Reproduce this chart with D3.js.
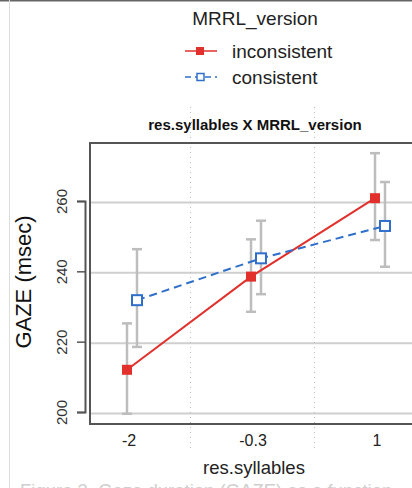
<!DOCTYPE html>
<meta charset="utf-8">
<style>
body { margin: 0; background: #fff; }
svg { display: block; font-family: "Liberation Sans", Arial, sans-serif; }
</style>
<svg width="412" height="488"></svg>
<script src="https://cdn.jsdelivr.net/npm/d3@7"></script>
<script>

var categories = ["-2", "-0.3", "1"];
var versions = ["inconsistent", "consistent"];
var inconsistent = [212, 238.5, 260.8];
var inconsistentLo = [199.5, 228.5, 248.9];
var inconsistentHi = [225.2, 249.1, 273.6];
var consistent = [231.8, 243.7, 252.9];
var consistentLo = [218.5, 233.5, 241.3];
var consistentHi = [246.3, 254.4, 265.4];
var yTicks = [200, 220, 240, 260];

var svg = d3.select("svg");

var x = d3.scalePoint()
    .domain(categories)
    .range([128.5, 376.5]);

var y = d3.scaleLinear()
    .domain([200, 260])
    .range([412, 201]);

var dodge = { inconsistent: -1.5, consistent: 8.5 };
var colors = { inconsistent: "#e2302d", consistent: "#2f6fcb" };

var series = [
  { key: "inconsistent", values: inconsistent, lo: inconsistentLo, hi: inconsistentHi },
  { key: "consistent", values: consistent, lo: consistentLo, hi: consistentHi }
];

// page edges
svg.append("line")
    .attr("x1", 0).attr("x2", 412).attr("y1", 0.5).attr("y2", 0.5)
    .attr("stroke", "#666").attr("stroke-width", 2);
svg.append("line")
    .attr("x1", 9.5).attr("x2", 9.5).attr("y1", 0).attr("y2", 488)
    .attr("stroke", "#ddd").attr("stroke-width", 1);

// legend
svg.append("text")
    .attr("x", 255).attr("y", 25)
    .attr("text-anchor", "middle")
    .attr("font-size", 19)
    .attr("fill", "#222")
    .text("MRRL_version");

var legend = svg.append("g").selectAll("g")
  .data(series)
  .enter().append("g")
    .attr("transform", function(d, i) { return "translate(0," + (51 + i * 26) + ")"; });

legend.append("line")
    .attr("x1", 185).attr("x2", 217)
    .attr("stroke", function(d) { return colors[d.key]; })
    .attr("stroke-width", 1.5)
    .attr("stroke-dasharray", function(d) { return d.key == "consistent" ? "6,4" : null; });

legend.append("rect")
    .attr("x", function(d) { return d.key == "consistent" ? 197 : 196; })
    .attr("y", function(d) { return d.key == "consistent" ? -3.5 : -4; })
    .attr("width", function(d) { return d.key == "consistent" ? 7 : 8; })
    .attr("height", function(d) { return d.key == "consistent" ? 7 : 8; })
    .attr("fill", function(d) { return d.key == "consistent" ? "#fff" : colors[d.key]; })
    .attr("stroke", function(d) { return colors[d.key]; })
    .attr("stroke-width", function(d) { return d.key == "consistent" ? 1.5 : 0; });

legend.append("text")
    .attr("x", 232).attr("y", 6.5)
    .attr("font-size", 19)
    .attr("fill", "#222")
    .text(function(d) { return d.key; });

// title
svg.append("text")
    .attr("x", 255).attr("y", 130)
    .attr("text-anchor", "middle")
    .attr("font-size", 15)
    .attr("font-weight", "bold")
    .attr("fill", "#111")
    .text("res.syllables X MRRL_version");

// grid
svg.append("g").selectAll("line")
  .data(yTicks)
  .enter().append("line")
    .attr("x1", 90).attr("x2", 412)
    .attr("y1", function(d) { return y(d) + 1.5; })
    .attr("y2", function(d) { return y(d) + 1.5; })
    .attr("stroke", "#cfcfcf")
    .attr("stroke-width", 2);

// dotted separators between categories
var seps = [0, 1].map(function(i) { return (x(categories[i]) + x(categories[i + 1])) / 2; });
svg.append("g").selectAll("line")
  .data(seps)
  .enter().append("line")
    .attr("x1", function(d) { return d; }).attr("x2", function(d) { return d; })
    .attr("y1", 107).attr("y2", 449)
    .attr("stroke", "#bbb")
    .attr("stroke-width", 1)
    .attr("stroke-dasharray", "1,4");

// plot box
svg.append("rect")
    .attr("x", 90).attr("y", 143)
    .attr("width", 340).attr("height", 281)
    .attr("fill", "none")
    .attr("stroke", "#555")
    .attr("stroke-width", 2);

// y axis
var yAxis = svg.append("g")
    .attr("transform", "translate(85,0)")
    .call(d3.axisLeft(y).tickValues(yTicks).tickSize(8).tickFormat(d3.format("d")));
yAxis.select(".domain").attr("stroke", "#555").attr("stroke-width", 2);
yAxis.selectAll(".tick line").attr("stroke", "#555").attr("stroke-width", 1.5);
yAxis.selectAll(".tick text")
    .attr("font-size", 15)
    .attr("font-family", "Liberation Sans, Arial, sans-serif")
    .attr("fill", "#333")
    .attr("text-anchor", "middle")
    .attr("x", 0).attr("y", null).attr("dy", null)
    .attr("transform", "translate(-18,0) rotate(-90)");

svg.append("text")
    .attr("transform", "translate(31,282) rotate(-90)")
    .attr("text-anchor", "middle")
    .attr("font-size", 22)
    .attr("fill", "#111")
    .text("GAZE (msec)");

// x axis labels
var xAxis = svg.append("g")
    .attr("transform", "translate(0,424)")
    .call(d3.axisBottom(x).tickSize(0).tickPadding(11));
xAxis.select(".domain").remove();
xAxis.selectAll(".tick text")
    .attr("font-size", 16)
    .attr("font-family", "Liberation Sans, Arial, sans-serif")
    .attr("fill", "#222");

svg.append("text")
    .attr("x", 254).attr("y", 474)
    .attr("text-anchor", "middle")
    .attr("font-size", 18.5)
    .attr("fill", "#222")
    .text("res.syllables");

// error bars
var bars = svg.append("g");
series.forEach(function(s) {
  categories.forEach(function(c, i) {
    var cx = x(c) + dodge[s.key];
    bars.append("line")
        .attr("x1", cx).attr("x2", cx)
        .attr("y1", y(s.lo[i])).attr("y2", y(s.hi[i]))
        .attr("stroke", "#bdbdbd").attr("stroke-width", 2.5);
    [s.lo[i], s.hi[i]].forEach(function(v) {
      bars.append("line")
          .attr("x1", cx - 5).attr("x2", cx + 5)
          .attr("y1", y(v)).attr("y2", y(v))
          .attr("stroke", "#bdbdbd").attr("stroke-width", 2.5);
    });
  });
});

// lines
var line = d3.line()
    .x(function(d) { return d[0]; })
    .y(function(d) { return d[1]; });

series.forEach(function(s) {
  var pts = categories.map(function(c, i) { return [x(c) + dodge[s.key], y(s.values[i])]; });
  svg.append("path")
      .attr("d", line(pts))
      .attr("fill", "none")
      .attr("stroke", colors[s.key])
      .attr("stroke-width", 2)
      .attr("stroke-dasharray", s.key == "consistent" ? "8,5" : null);
});

// points
series.forEach(function(s) {
  svg.append("g").selectAll("rect")
    .data(s.values)
    .enter().append("rect")
      .attr("x", function(d, i) { return x(categories[i]) + dodge[s.key] - 5; })
      .attr("y", function(d) { return y(d) - 5; })
      .attr("width", 10).attr("height", 10)
      .attr("fill", s.key == "consistent" ? "#fff" : colors[s.key])
      .attr("stroke", s.key == "consistent" ? colors[s.key] : "none")
      .attr("stroke-width", 2);
});

// caption (cut off at the bottom of the frame, as in the source)
svg.append("text")
    .attr("x", 20).attr("y", 497)
    .attr("font-size", 18.5)
    .attr("fill", "#cfcfcf")
    .text("Figure 3. Gaze duration (GAZE) as a function");

</script>
